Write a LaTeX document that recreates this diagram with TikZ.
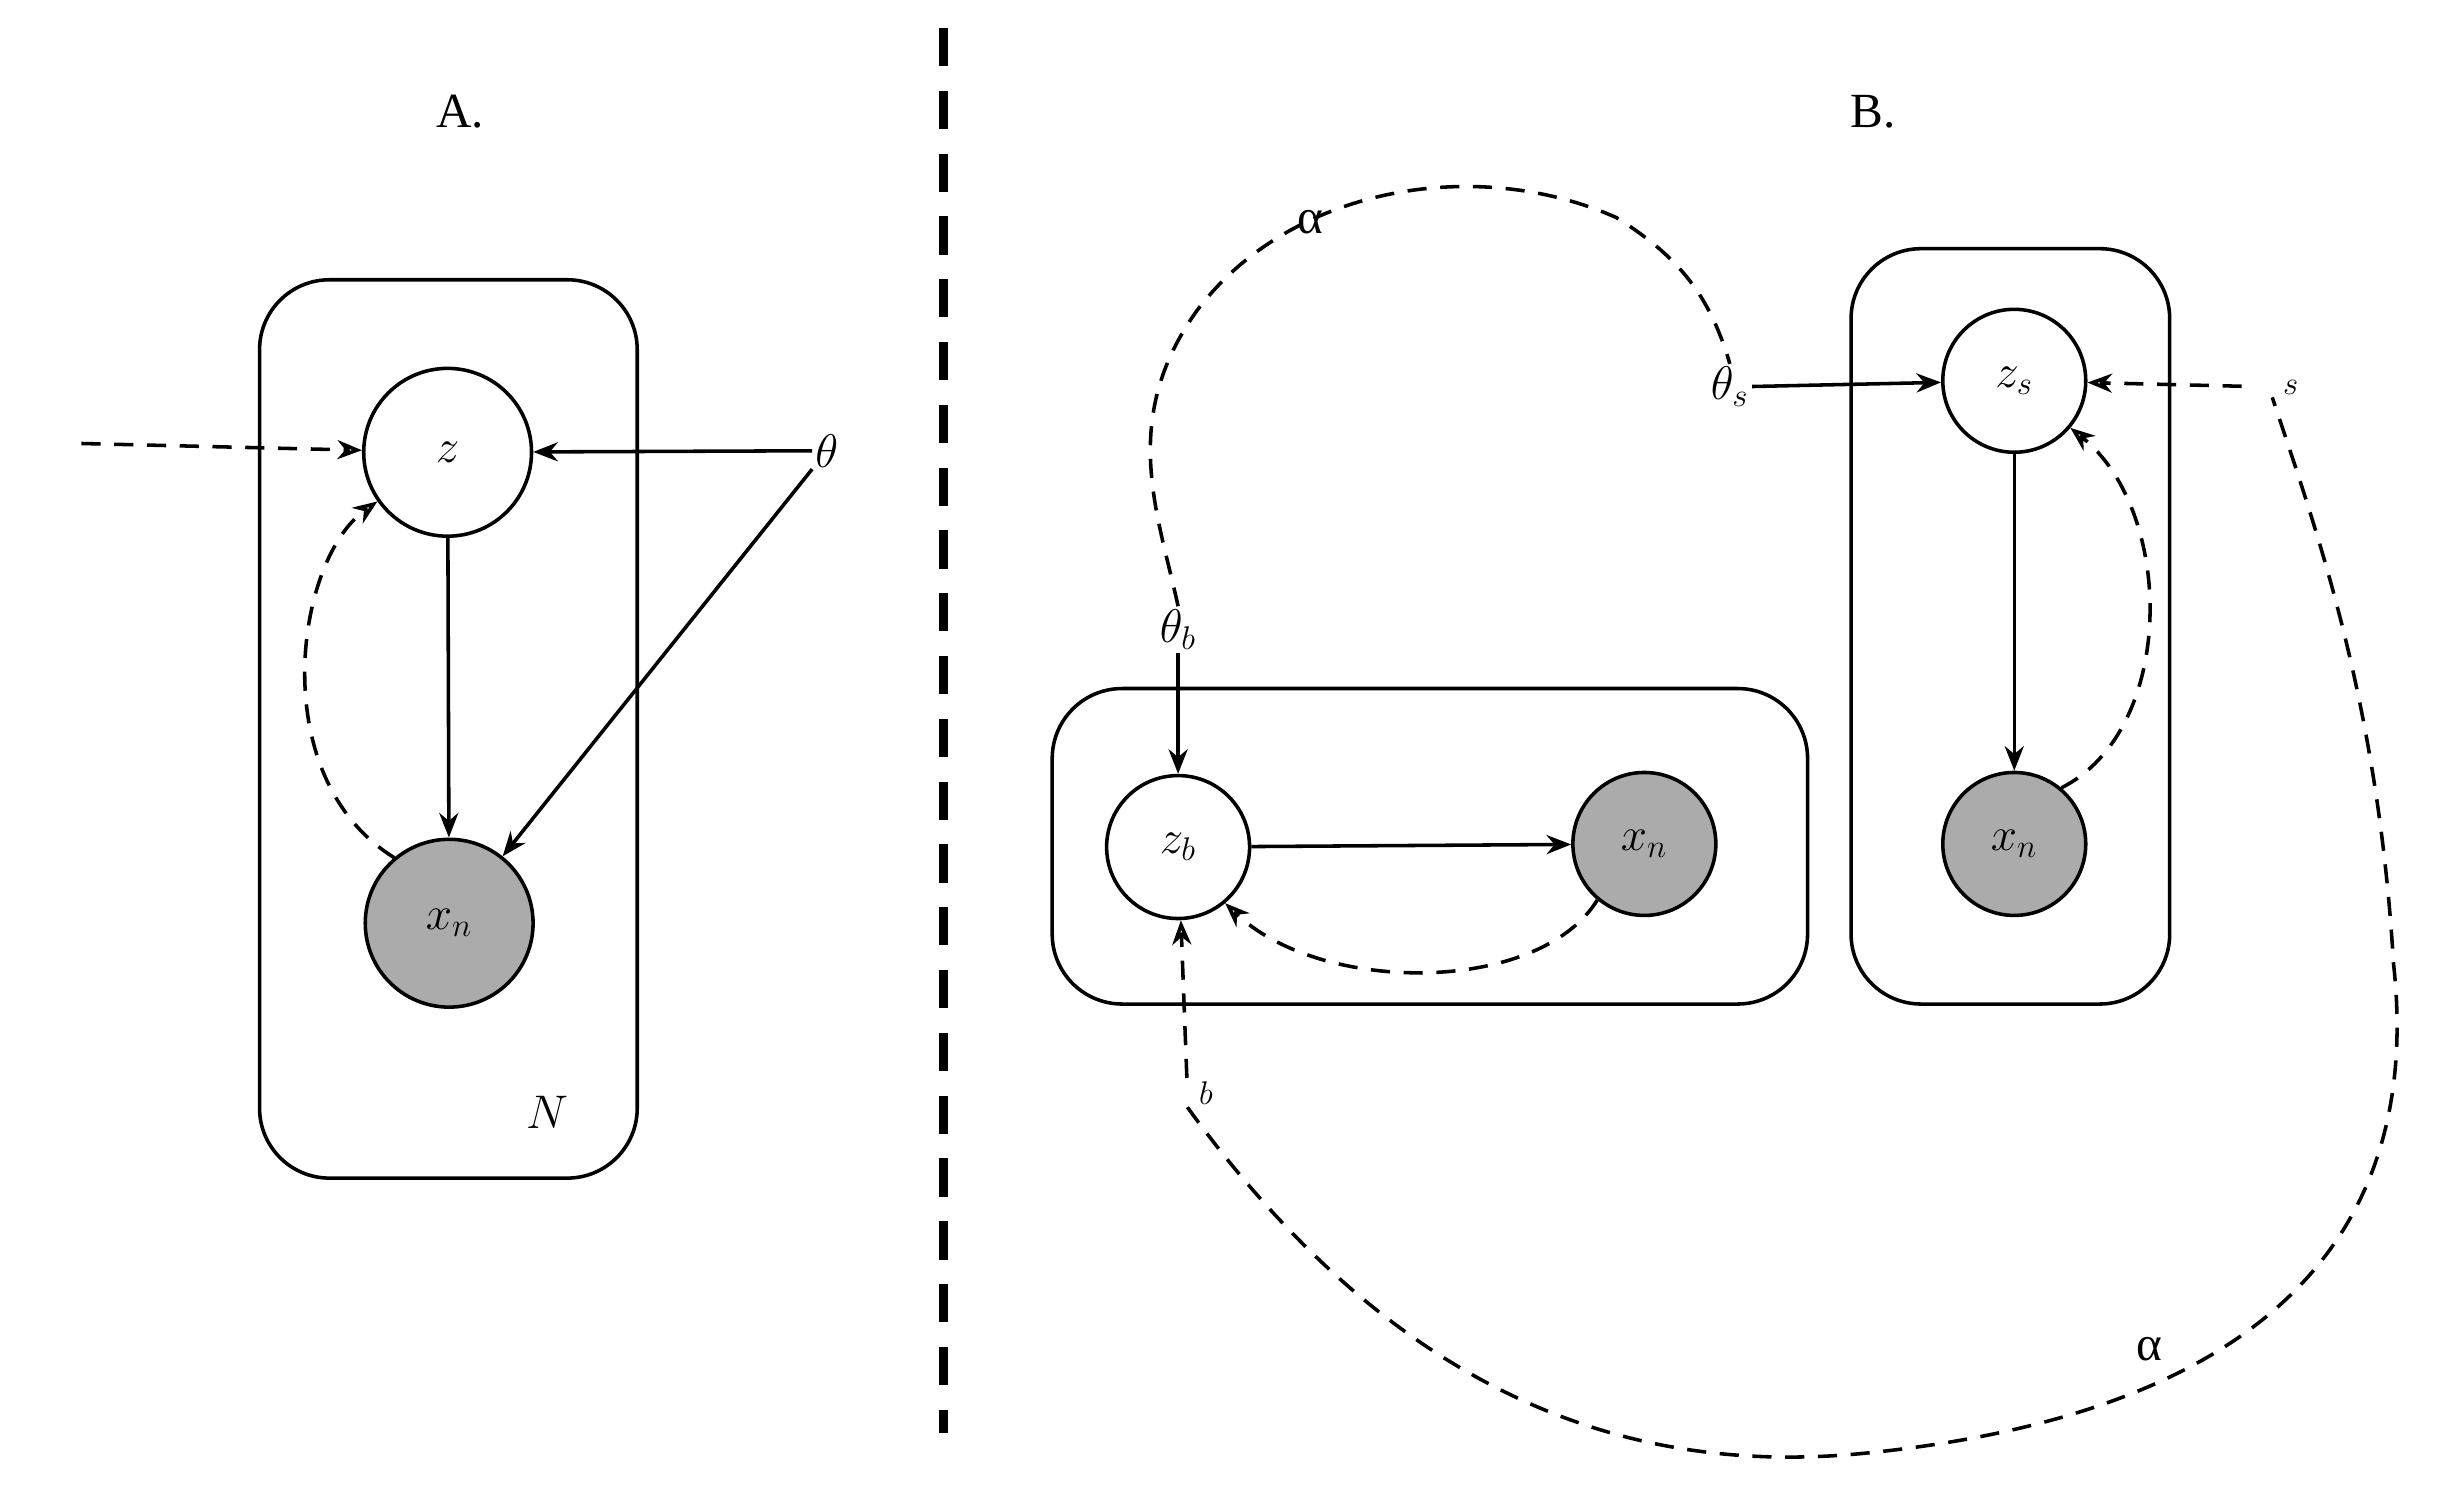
\documentclass[tikz,border=0pt]{standalone}
\usepackage{fontspec}
\setmainfont{Liberation Serif}
\usetikzlibrary{arrows.meta}
\begin{document}
\begin{tikzpicture}[x=0.02cm,y=-0.02cm,
  lw/.style={line width=1.3pt},
  plate/.style={lw,draw,rounded corners=0.9cm},
  var/.style={lw,draw,circle,inner sep=0pt,font=\fontsize{18}{20}\selectfont},
  obs/.style={var,fill=black!33},
  lab/.style={font=\fontsize{18}{20}\selectfont,inner sep=1pt},
  arr/.style={lw,-{Stealth[length=9pt,width=7pt]}},
  darr/.style={lw,dashed,dash pattern=on 7pt off 5pt,-{Stealth[length=9pt,width=7pt,open]}},
  dl/.style={lw,dashed,dash pattern=on 7pt off 5pt}]
\useasboundingbox (0,0) rectangle (1568,960);
% A
\node[lab] (tA) at (296,72) {A.};
\draw[plate] (167,180) rectangle (410,758);
\node[var,minimum size=2.16cm] (z) at (288,291) {$z$};
\node[obs,minimum size=2.16cm] (xa) at (289,594) {$x_n$};
\node[lab] (phi) at (38,285) {$\mathit{\Phi}$};
\node[lab] (th) at (532,290) {$\theta$};
\node[lab] (N) at (352,716) {$N$};
\draw[darr] (phi) -- (z);
\draw[arr] (th) -- (z);
\draw[arr] (th) -- (xa);
\draw[arr] (z) -- (xa);
\draw[darr] (xa.130) .. controls (170,500) and (190,360) .. (z.215);
% divider
\coordinate (d1) at (607,18);
\coordinate (d2) at (607,922);
\draw[line width=3pt,dash pattern=on 14pt off 9pt] (d1) -- (d2);
% B
\node[lab] (tB) at (1205,72) {B.};
\draw[plate] (677,443) rectangle (1163,646);
\draw[plate] (1191,160) rectangle (1396,646);
\node[var,minimum size=1.84cm] (zb) at (758,545) {$z_b$};
\node[obs,minimum size=1.84cm] (xb) at (1058,543) {$x_n$};
\node[var,minimum size=1.84cm] (zs) at (1296,245) {$z_s$};
\node[obs,minimum size=1.84cm] (xs) at (1296,543) {$x_n$};
\node[lab] (thb) at (758,405) {$\theta_b$};
\node[lab] (phib) at (764,703) {$\mathit{\Phi}_b$};
\node[lab] (ths) at (1113,249) {$\theta_s$};
\node[lab] (phis) at (1462,249) {$\mathit{\Phi}_s$};
\node[lab] (a1) at (843,143) {α};
\node[lab] (a2) at (1383,868) {α};
\draw[arr] (thb) -- (zb);
\draw[darr] (phib) -- (zb);
\draw[arr] (ths) -- (zs);
\draw[darr] (phis) -- (zs);
\draw[arr] (zb) -- (xb);
\draw[arr] (zs) -- (xs);
\draw[darr] (xb.230) .. controls (990,640) and (850,640) .. (zb.-50);
\draw[darr] (xs.50) .. controls (1400,470) and (1400,330) .. (zs.-40);
\draw[dl] (thb.north) .. controls (745,330) and (720,270) .. (770,200)
  .. controls (830,120) and (950,100) .. (1040,140)
  .. controls (1080,165) and (1100,190) .. (ths.north);
\draw[dl] (phib.south) .. controls (900,900) and (1050,950) .. (1200,935)
  .. controls (1450,910) and (1560,800) .. (1540,620)
  .. controls (1530,450) and (1490,340) .. (phis.south);
\end{tikzpicture}
\end{document}
